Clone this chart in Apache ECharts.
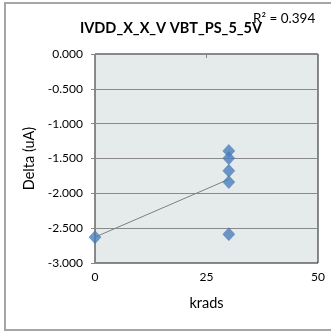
<!DOCTYPE html>
<html><head><meta charset="utf-8">
<script src="https://cdn.jsdelivr.net/npm/echarts@6/dist/echarts.min.js"></script>
<style>html,body{margin:0;padding:0;background:#fff}#c{width:331px;height:333px}</style>
</head><body><div id="c"></div>
<script>
const titleText = "IVDD_X_X_V VBT_PS_5_5V";
const r2Text = "R² = 0.394";
const xLabel = "krads";
const yLabel = "Delta (uA)";
const krads = [0, 30, 30, 30, 30, 30];
const delta = [-2.629, -1.391, -1.496, -1.677, -1.839, -2.586];
const xTicks = [0, 25, 50];
const yMin = -3, yMax = 0, yStep = 0.5;

// linear trendline from the data
const n = krads.length;
const mx = krads.reduce((a,b)=>a+b,0)/n;
const my = delta.reduce((a,b)=>a+b,0)/n;
let sxy=0, sxx=0;
for (let i=0;i<n;i++){ sxy+=(krads[i]-mx)*(delta[i]-my); sxx+=(krads[i]-mx)**2; }
const slope = sxy/sxx, icpt = my - slope*mx;
const xMinD = Math.min(...krads), xMaxD = Math.max(...krads);
const trend = [[xMinD, icpt+slope*xMinD],[xMaxD, icpt+slope*xMaxD]];

const font = "Lato, 'Open Sans', sans-serif";
const chart = echarts.init(document.getElementById('c'));
chart.setOption({
  animation:false,
  grid:{left:95,right:13,top:54,bottom:70,show:true,backgroundColor:'#e5ebeb',borderColor:'#1a1a1a',borderWidth:1},
  graphic:[
    {type:'rect',shape:{x:5,y:3,width:340,height:327},style:{fill:'none',stroke:'#a6a6a6',lineWidth:2},z:-1}
  ],
  title:[
    {text:titleText,left:166,textAlign:'center',top:16,textStyle:{fontFamily:font,fontWeight:'bold',fontSize:14.5,color:'#000'}},
    {text:r2Text,left:248,top:7,textStyle:{fontFamily:font,fontWeight:'normal',fontSize:13.5,color:'#000'}}
  ],
  xAxis:{type:'value',min:xTicks[0],max:xTicks[xTicks.length-1],interval:xTicks[1]-xTicks[0],
    name:xLabel,nameLocation:'middle',nameGap:33,nameTextStyle:{fontFamily:font,fontSize:14.5,color:'#000'},
    axisLine:{lineStyle:{color:'#868686'}},axisTick:{show:true,length:4,lineStyle:{color:'#868686'}},
    axisLabel:{fontFamily:font,fontSize:12,color:'#000',margin:8},splitLine:{show:false}},
  yAxis:{type:'value',min:yMin,max:yMax,interval:yStep,
    name:yLabel,nameLocation:'middle',nameGap:51,nameTextStyle:{fontFamily:font,fontSize:14.5,color:'#000'},
    axisLine:{show:true,lineStyle:{color:'#868686'}},axisTick:{show:true,length:4,lineStyle:{color:'#868686'}},
    axisLabel:{fontFamily:font,fontSize:12,color:'#000',margin:12,formatter:v=>v.toFixed(3)},
    splitLine:{show:true,lineStyle:{color:'#8a8a8a',width:1}}},
  series:[
    {type:'line',data:trend,symbol:'none',lineStyle:{color:'#7f7f7f',width:1},z:2},
    {type:'scatter',data:krads.map((x,i)=>[x,delta[i]]),symbol:'diamond',symbolSize:[12,13],
      itemStyle:{color:'#4a7ebb',borderColor:'#3d6ea8',borderWidth:0.5},z:3}
  ]
});
</script></body></html>
